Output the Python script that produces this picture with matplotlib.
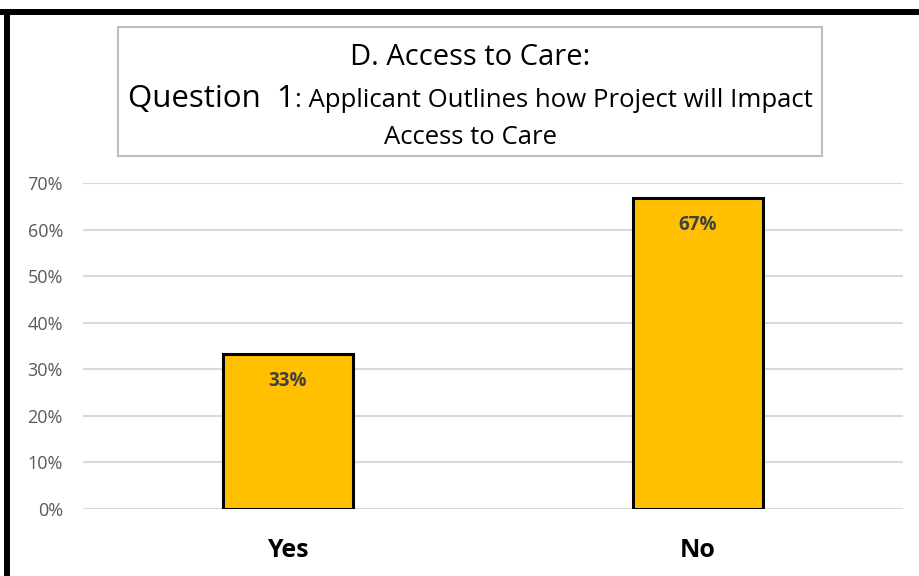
import matplotlib
matplotlib.use("Agg")
import matplotlib.pyplot as plt
from matplotlib.patches import Rectangle
from matplotlib.ticker import FuncFormatter

categories = ["Yes", "No"]
values = [0.333, 0.667]
value_labels = ["33%", "67%"]
yticks = [0, 0.1, 0.2, 0.3, 0.4, 0.5, 0.6, 0.7]

title_line1 = "D. Access to Care:"
title_line2a = "Question  1"
title_line2b = ": Applicant Outlines how Project will Impact"
title_line3 = "Access to Care"

plt.rcParams['font.family'] = ['Open Sans', 'DejaVu Sans']

W, H = 920, 576
fig = plt.figure(figsize=(W/100, H/100), dpi=100)
fig.patch.set_facecolor('white')

def fx(x): return x / W
def fy(y): return 1 - y / H

ax = fig.add_axes([fx(83), fy(509), fx(903) - fx(83), fy(183) - fy(509)])
x = list(range(len(categories)))
bars = ax.bar(x, values, width=0.317, color='#FFC000', edgecolor='black', linewidth=2.2, zorder=3)
ax.set_xlim(-0.5, len(categories) - 0.5)
ax.set_ylim(0, 0.7)
ax.set_yticks(yticks)
ax.yaxis.set_major_formatter(FuncFormatter(lambda v, p: f"{v*100:.0f}%"))
ax.grid(axis='y', color='#d9d9d9', linewidth=1.5, zorder=0)
for s in ax.spines.values():
    s.set_visible(False)
ax.tick_params(axis='y', length=0, labelsize=13, labelcolor='#595959', pad=14.4)
ax.tick_params(axis='x', length=0, labelsize=18, pad=21)
ax.set_xticks(x)
ax.set_xticklabels(categories, fontweight='bold', color='black')
for xi, v, lab in zip(x, values, value_labels):
    ax.annotate(lab, (xi, v), xytext=(0, -12), textcoords='offset points',
                ha='center', va='top', fontsize=13.5, fontweight='bold', color='#404040', zorder=4)

# title box
fig.patches.append(Rectangle((fx(118), fy(156)), fx(822) - fx(118), fy(27) - fy(156),
                             transform=fig.transFigure, facecolor='white', edgecolor='#bfbfbf',
                             linewidth=1.5, zorder=1))
cx = fx(470)
fig.text(cx, fy(65), title_line1, ha='center', va='baseline', fontsize=21, color='black')
fig.canvas.draw()
r = fig.canvas.get_renderer()
ta = fig.text(0, fy(107), title_line2a, ha='left', va='baseline', fontsize=22.5, color='black')
tb = fig.text(0, fy(107), title_line2b, ha='left', va='baseline', fontsize=18.5, color='black')
wa = ta.get_window_extent(r).width / W
wb = tb.get_window_extent(r).width / W
start = cx - (wa + wb) / 2
ta.set_x(start)
tb.set_x(start + wa)
fig.text(cx, fy(144), title_line3, ha='center', va='baseline', fontsize=18.5, color='black')

# black frame (top and left)
fig.patches.append(Rectangle((0, fy(15)), 1, fy(9) - fy(15), transform=fig.transFigure,
                             facecolor='black', edgecolor='none', zorder=5))
fig.patches.append(Rectangle((fx(4), 0), fx(10) - fx(4), fy(9), transform=fig.transFigure,
                             facecolor='black', edgecolor='none', zorder=5))

fig.savefig("out.png", dpi=100)
